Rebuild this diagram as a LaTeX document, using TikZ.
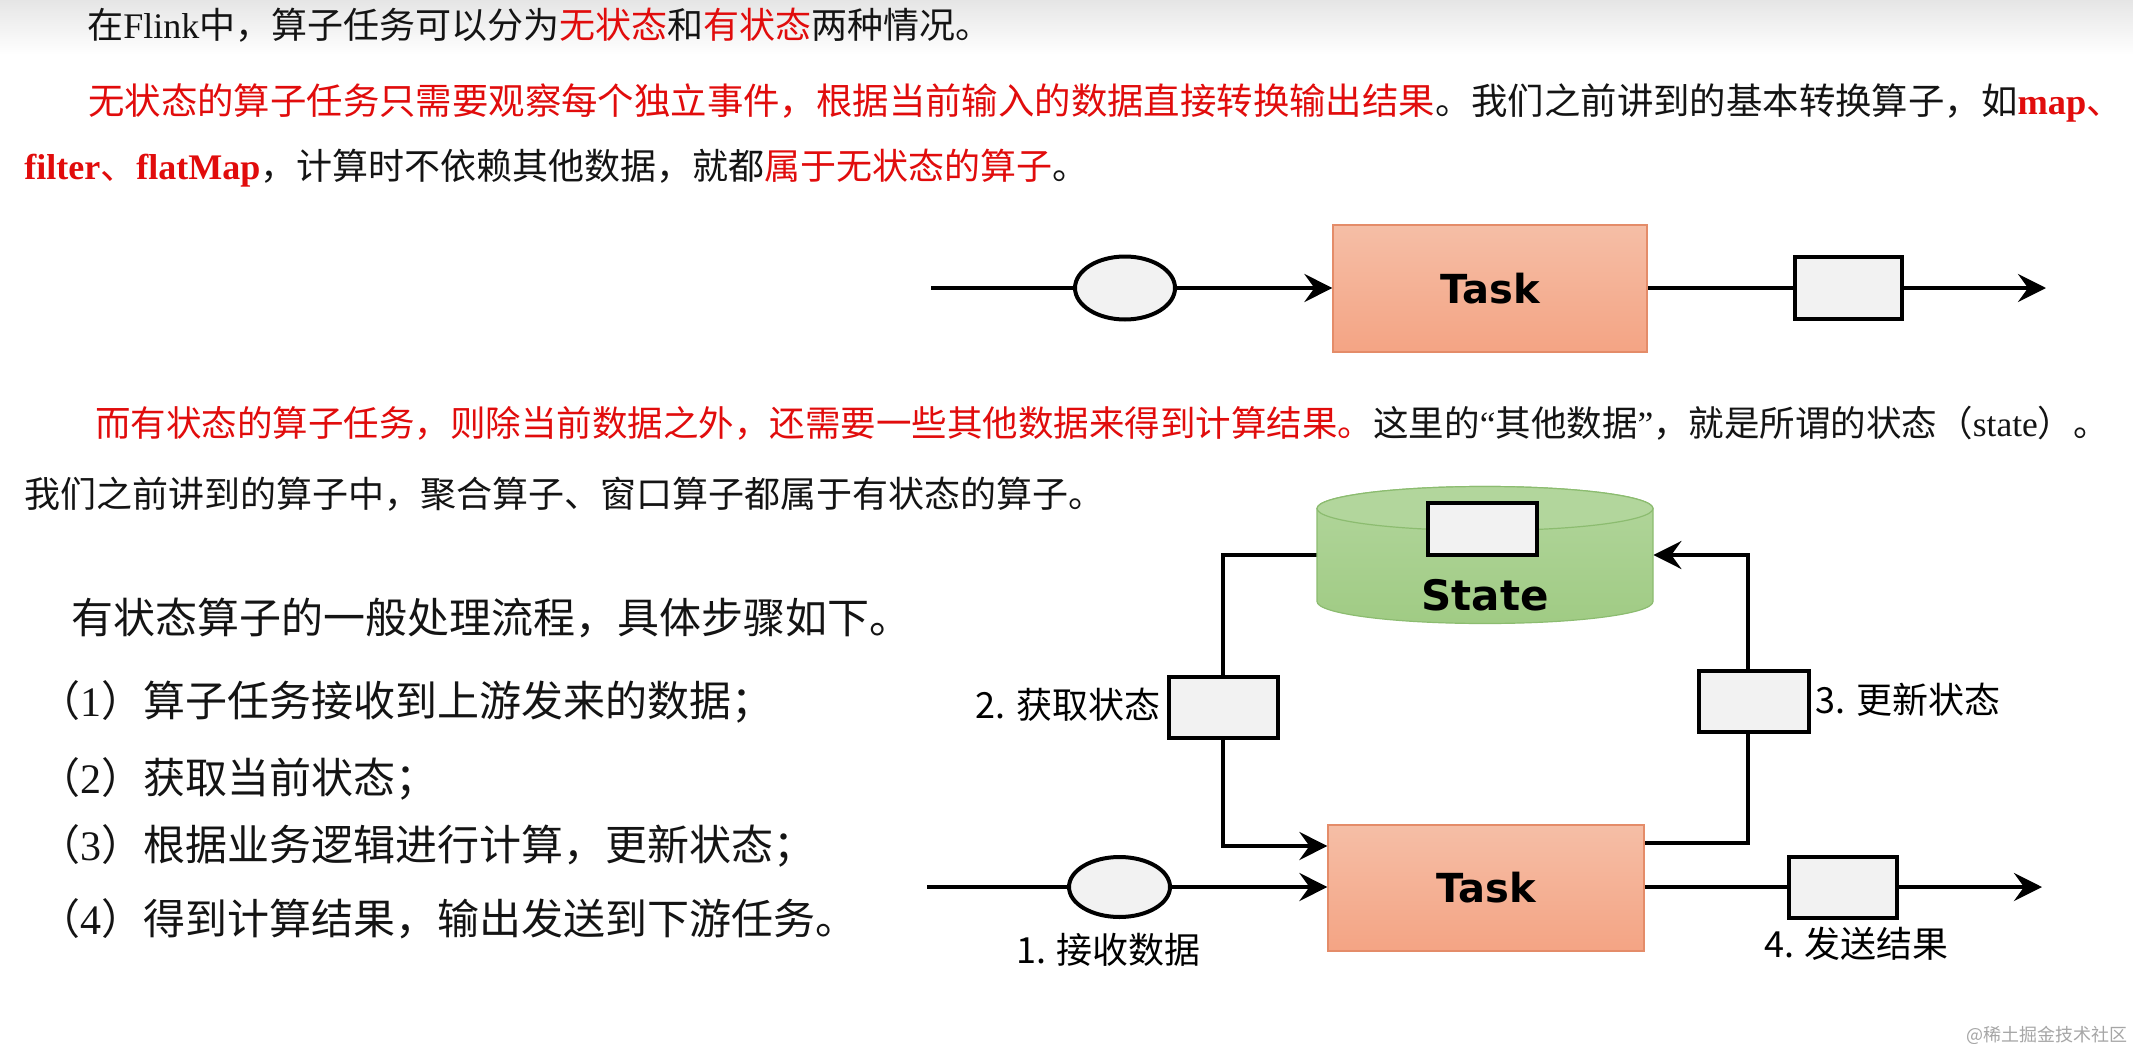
\documentclass[tikz,border=0pt]{standalone}
\usepackage{fontspec}
\setmainfont{Noto Sans CJK SC}
\newfontfamily\tms{Liberation Serif}
\newfontfamily\djv{DejaVu Sans}
\usetikzlibrary{arrows.meta,shapes.geometric}
\pgfdeclarelayer{bg}
\pgfsetlayers{bg,main}
\definecolor{hred}{RGB}{225,12,12}
\definecolor{txt}{RGB}{20,20,20}
\definecolor{boxfill}{RGB}{242,242,242}
\definecolor{tasktop}{RGB}{245,190,166}
\definecolor{taskbot}{RGB}{244,164,132}
\definecolor{taskedge}{RGB}{228,140,105}
\definecolor{cylbody}{RGB}{160,203,132}
\definecolor{cyltop}{RGB}{178,214,156}
\definecolor{cyledge}{RGB}{140,188,112}
\begin{document}
\begin{tikzpicture}[x=0.5pt,y=-0.5pt,
  body/.style={anchor=west,inner sep=0pt,text height=0.88em,text depth=0.12em,font=\fontsize{18pt}{22pt}\selectfont,text=txt},
  big/.style={body,font=\fontsize{21pt}{25pt}\selectfont},
  lbl/.style={inner sep=0pt,font=\fontsize{18pt}{22pt}\selectfont,text=black,text height=0.88em,text depth=0.12em},
  conn/.style={line width=2pt,draw=black},
  arr/.style={conn,-{Stealth[length=14pt,width=14pt,inset=5pt]}},
  task/.style={rectangle,draw=taskedge,line width=0.6pt,top color=tasktop,bottom color=taskbot,minimum width=157pt,minimum height=63.5pt,inner sep=0pt,font=\djv\bfseries\fontsize{20pt}{24pt}\selectfont},
  msg/.style={rectangle,draw=black,line width=2pt,fill=boxfill,inner sep=0pt},
  evt/.style={ellipse,draw=black,line width=2pt,fill=boxfill,inner sep=0pt},
]
\useasboundingbox (0,0) rectangle (2133,1044);

% ---- text ----
\node[body] (l1) at (87,31) {在{\tms Flink}中，算子任务可以分为{\color{hred}无状态}和{\color{hred}有状态}两种情况。};
\node[body,font=\fontsize{18.2pt}{22pt}\selectfont] (l2) at (88,107) {{\color{hred}无状态的算子任务只需要观察每个独立事件，根据当前输入的数据直接转换输出结果}。我们之前讲到的基本转换算子，如{\color{hred}{\tms\bfseries map}、}};
\node[body] (l3) at (24,172) {{\color{hred}{\tms\bfseries filter}、{\tms\bfseries flatMap}}，计算时不依赖其他数据，就都{\color{hred}属于无状态的算子}。};
\node[body,font=\fontsize{17.75pt}{22pt}\selectfont] (l4) at (95,429) {{\color{hred}而有状态的算子任务，则除当前数据之外，还需要一些其他数据来得到计算结果。}这里的{\tms “}其他数据{\tms ”}，就是所谓的状态（{\tms state}）。};
\node[body] (l5) at (24,500) {我们之前讲到的算子中，聚合算子、窗口算子都属于有状态的算子。};
\node[big] (l6) at (71,626) {有状态算子的一般处理流程，具体步骤如下。};
\node[big] (l7) at (38,709) {（{\tms 1}）算子任务接收到上游发来的数据；};
\node[big] (l8) at (38,786) {（{\tms 2}）获取当前状态；};
\node[big] (l9) at (38,853) {（{\tms 3}）根据业务逻辑进行计算，更新状态；};
\node[big] (l10) at (38,927) {（{\tms 4}）得到计算结果，输出发送到下游任务。};

% ---- top diagram ----
\node[evt,minimum width=50pt,minimum height=31.5pt] (e1) at (1125,288) {};
\node[task] (t1) at (1490,288.5) {Task};
\node[msg,minimum width=53.5pt,minimum height=31pt] (s1) at (1848.5,288) {};
\coordinate (a1) at (931,288);
\coordinate (b1) at (2046,288);

% ---- state cylinder ----
\path[draw=cyledge,line width=0.6pt,top color=cyltop,bottom color=cylbody]
  (1317,508.5) -- (1317,601.5) arc[start angle=180,end angle=360,x radius=84pt,y radius=11pt]
  -- (1653,508.5) arc[start angle=0,end angle=180,x radius=84pt,y radius=11pt] -- cycle;
\draw[cyledge,line width=0.6pt,fill=cyltop] (1485,508.5) ellipse[x radius=84pt,y radius=11pt];
\node[inner sep=0pt,minimum width=168pt,minimum height=68.5pt] (st) at (1485,555) {};
\node[msg,minimum width=54.5pt,minimum height=26pt] (s0) at (1482.5,529) {};
\node[inner sep=0pt,font=\djv\bfseries\fontsize{21pt}{25pt}\selectfont] (stl) at (1485,595) {State};

% ---- bottom diagram ----
\node[task,minimum width=158pt,minimum height=63pt] (t2) at (1486,888) {Task};
\node[evt,minimum width=50.5pt,minimum height=30pt] (e2) at (1119.5,887) {};
\node[msg,minimum width=54pt,minimum height=30.5pt] (s4) at (1843,887.5) {};
\node[msg,minimum width=54.5pt,minimum height=30.5pt] (s2) at (1223.5,707.5) {};
\node[msg,minimum width=55pt,minimum height=30.5pt] (s3) at (1754,701.5) {};
\coordinate (a2) at (927,887);
\coordinate (b2) at (2042,887);
\coordinate (lc) at (1223,846);
\coordinate (rc) at (1748,843);

\node[lbl,anchor=east] (lb2) at (1161,711) {2. 获取状态};
\node[lbl,anchor=west] (lb3) at (1815,706) {3. 更新状态};
\node[lbl] (lb1) at (1108.5,956) {1. 接收数据};
\node[lbl] (lb4) at (1856.5,950) {4. 发送结果};

\node[anchor=east,inner sep=0pt,text=gray!70,font=\fontsize{9pt}{10pt}\selectfont] (wm) at (2128,1035) {@稀土掘金技术社区};

\begin{pgfonlayer}{bg}
\fill[white] (0,0) rectangle (2133,1044);
\shade[top color=black!10,bottom color=white] (0,0) rectangle (2133,55);
\draw[arr] (a1) -- (a1 -| t1.west);
\draw[arr] (t1.east |- b1) -- (b1);
\draw[arr] (a2) -- (a2 -| t2.west);
\draw[arr] (t2.east |- b2) -- (b2);
\draw[arr] (st.west) -| (lc) -- (lc -| t2.west);
\draw[arr] (t2.east |- rc) -- (rc) |- (st.east);
\end{pgfonlayer}
\end{tikzpicture}
\end{document}
